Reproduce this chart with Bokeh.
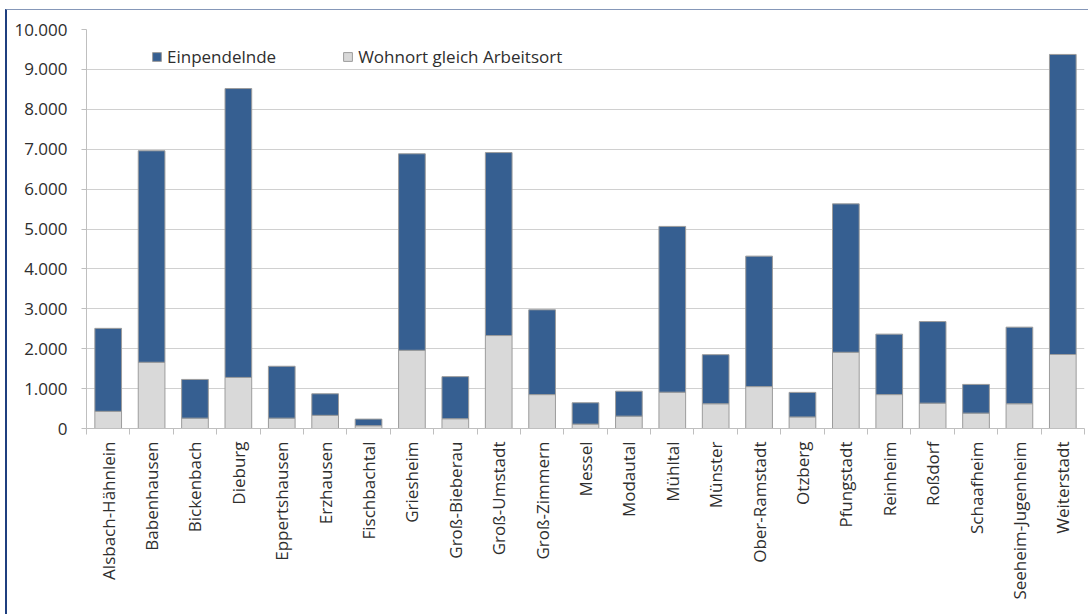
import numpy as np
from bokeh.plotting import figure
from bokeh.models import (ColumnDataSource, FixedTicker, CustomJSTickFormatter,
                          Legend, LegendItem, Range1d)
from bokeh.embed import file_html
from bokeh.resources import INLINE

gemeinden = ["Alsbach-Hähnlein", "Babenhausen", "Bickenbach", "Dieburg", "Eppertshausen",
             "Erzhausen", "Fischbachtal", "Griesheim", "Groß-Bieberau", "Groß-Umstadt",
             "Groß-Zimmern", "Messel", "Modautal", "Mühltal", "Münster", "Ober-Ramstadt",
             "Otzberg", "Pfungstadt", "Reinheim", "Roßdorf", "Schaafheim",
             "Seeheim-Jugenheim", "Weiterstadt"]
# Beschäftigte, die am Wohnort arbeiten
wohnort_gleich_arbeitsort = [430, 1660, 260, 1280, 260, 330, 70, 1960, 245, 2330,
                             850, 110, 310, 910, 620, 1050, 290, 1910, 850, 635,
                             385, 620, 1855]
# Gesamtzahl der Beschäftigten am Arbeitsort (Einpendelnde + Wohnort = Arbeitsort)
gesamt = [2510, 6960, 1230, 8520, 1560, 870, 235, 6885, 1300, 6915,
          2975, 645, 935, 5065, 1850, 4320, 905, 5630, 2365, 2680,
          1105, 2540, 9375]
einpendelnde = [g - w for g, w in zip(gesamt, wohnort_gleich_arbeitsort)]
y_ticks = list(range(0, 10001, 1000))

n = len(gemeinden)
pos = np.arange(n) + 0.5
src = ColumnDataSource(dict(x=pos, wohnort=wohnort_gleich_arbeitsort, ein=einpendelnde))

FONT = "Open Sans"
TXT = "#2e2e2e"

p = figure(width=1083, height=605, output_backend="svg", toolbar_location=None,
           x_range=Range1d(0, n), y_range=Range1d(0, 10000),
           min_border_left=79, min_border_right=6, min_border_top=19, min_border_bottom=187)
p.styles = {"border-left": "2px solid #1f3f7f", "border-top": "1px solid #8597b8",
            "margin-left": "5px", "margin-top": "9px"}
p.outline_line_color = None
p.background_fill_color = "white"
p.border_fill_color = "white"

r = p.vbar_stack(["wohnort", "ein"], x="x", width=0.615, source=src,
                 color=["#d9d9d9", "#365f91"], line_color="#9c9c9c", line_width=1)

# Achsen
p.xaxis.ticker = FixedTicker(ticks=list(pos), minor_ticks=list(range(n + 1)))
p.xaxis.formatter = CustomJSTickFormatter(args=dict(names=gemeinden),
                                          code="return names[Math.floor(tick)] || '';")
p.xaxis.major_label_orientation = np.pi / 2
p.xaxis.major_tick_line_color = None
p.xaxis.minor_tick_out = 6
p.xaxis.minor_tick_in = 0
p.xaxis.minor_tick_line_color = "#bfbfbf"
p.xaxis.axis_line_color = "#bfbfbf"
p.xaxis.major_label_standoff = 7
p.xaxis.major_label_text_font = FONT
p.xaxis.major_label_text_font_size = "17px"
p.xaxis.major_label_text_color = TXT

p.yaxis.ticker = FixedTicker(ticks=y_ticks)
p.yaxis.formatter = CustomJSTickFormatter(
    code="return String(tick).replace(/\\B(?=(\\d{3})+(?!\\d))/g, '.');")
p.yaxis.major_tick_out = 5
p.yaxis.major_tick_in = 0
p.yaxis.major_tick_line_color = "#bfbfbf"
p.yaxis.minor_tick_line_color = None
p.yaxis.axis_line_color = "#bfbfbf"
p.yaxis.major_label_standoff = 14
p.yaxis.major_label_text_font = FONT
p.yaxis.major_label_text_font_size = "17px"
p.yaxis.major_label_text_color = TXT

p.xgrid.grid_line_color = None
p.ygrid.grid_line_color = "#d0d0d0"
p.ygrid.grid_line_width = 1

legend = Legend(items=[LegendItem(label="Einpendelnde", renderers=[r[1]]),
                       LegendItem(label="Wohnort gleich Arbeitsort", renderers=[r[0]])],
                orientation="horizontal", location=(65, 360),
                padding=0, margin=0, spacing=66, label_standoff=5,
                glyph_width=11, glyph_height=11,
                border_line_color=None, background_fill_alpha=0,
                label_text_font=FONT, label_text_font_size="17px", label_text_color=TXT)
p.add_layout(legend)

open("out.html", "w").write(file_html(p, INLINE))
